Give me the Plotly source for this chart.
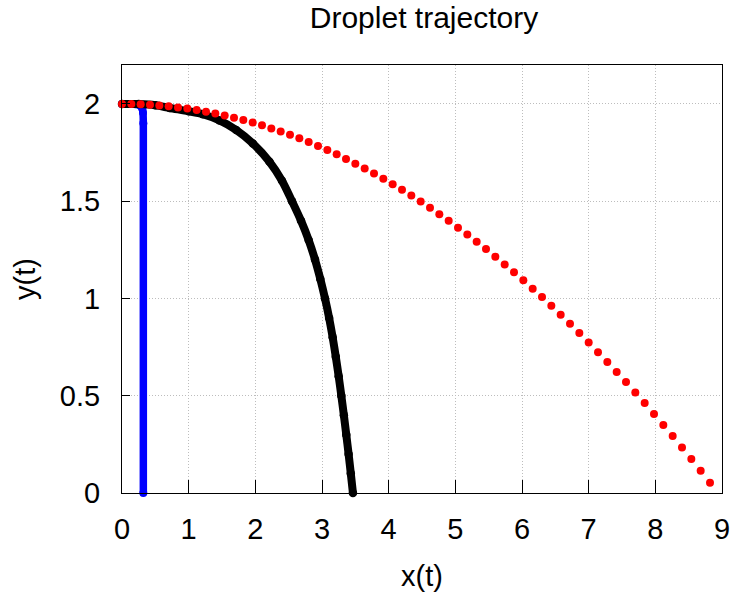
import plotly.graph_objects as go

# Red: droplet without drag
red_x = [0.00, 0.14, 0.28, 0.42, 0.56, 0.70, 0.84, 0.98, 1.12, 1.26,
         1.40, 1.54, 1.68, 1.82, 1.96, 2.10, 2.24, 2.38, 2.52, 2.66,
         2.80, 2.94, 3.08, 3.22, 3.36, 3.50, 3.64, 3.78, 3.92, 4.06,
         4.20, 4.34, 4.48, 4.62, 4.76, 4.90, 5.04, 5.18, 5.32, 5.46,
         5.60, 5.74, 5.88, 6.02, 6.16, 6.30, 6.44, 6.58, 6.72, 6.86,
         7.00, 7.14, 7.28, 7.42, 7.56, 7.70, 7.84, 7.98, 8.12, 8.26,
         8.40, 8.54, 8.68, 8.82]
red_y = [2.000, 1.9995, 1.998, 1.996, 1.992, 1.988, 1.982, 1.976, 1.969, 1.960,
         1.951, 1.941, 1.929, 1.917, 1.904, 1.890, 1.874, 1.858, 1.841, 1.823,
         1.804, 1.784, 1.763, 1.741, 1.717, 1.693, 1.668, 1.642, 1.615, 1.587,
         1.559, 1.529, 1.498, 1.466, 1.433, 1.399, 1.364, 1.329, 1.292, 1.254,
         1.215, 1.175, 1.135, 1.093, 1.050, 1.007, 0.962, 0.916, 0.870, 0.822,
         0.774, 0.724, 0.674, 0.622, 0.570, 0.516, 0.462, 0.406, 0.350, 0.293,
         0.234, 0.175, 0.115, 0.053]

# Black: medium droplet
black_x = [0.00, 0.25, 0.50, 0.715, 1.00, 1.212, 1.462, 1.713, 1.962, 2.212,
           2.40, 2.55, 2.685, 2.80, 2.895, 2.975, 3.045, 3.107, 3.16, 3.207,
           3.25, 3.29, 3.328, 3.364, 3.399, 3.432, 3.464]
black_y = [2.000, 1.999, 1.993, 1.979, 1.962, 1.947, 1.915, 1.866, 1.797, 1.703,
           1.605, 1.500, 1.400, 1.300, 1.200, 1.100, 1.000, 0.900, 0.800, 0.700,
           0.600, 0.500, 0.400, 0.300, 0.200, 0.100, 0.000]

# Blue: small droplet
blue_x = [0.00, 0.10, 0.20, 0.26, 0.29, 0.305, 0.315, 0.32, 0.32]
blue_y = [2.000, 2.000, 1.998, 1.994, 1.987, 1.975, 1.955, 1.900, 0.000]

x_ticks = [0, 1, 2, 3, 4, 5, 6, 7, 8, 9]
y_ticks = [0, 0.5, 1, 1.5, 2]
y_tick_text = ["0", "0.5", "1", "1.5", "2"]

FONT = "Liberation Sans, Arial, sans-serif"
FS = 29

fig = go.Figure()
fig.add_trace(go.Scatter(x=blue_x, y=blue_y, mode="lines+markers",
                         line=dict(color="#0000ff", width=7.5, shape="spline", smoothing=0.6),
                         marker=dict(color="#0000ff", size=8),
                         cliponaxis=False, showlegend=False, hoverinfo="skip"))
fig.add_trace(go.Scatter(x=black_x, y=black_y, mode="lines+markers",
                         line=dict(color="#000000", width=8, shape="spline", smoothing=0.8),
                         marker=dict(color="#000000", size=8.5),
                         cliponaxis=False, showlegend=False, hoverinfo="skip"))
fig.add_trace(go.Scatter(x=red_x, y=red_y, mode="markers",
                         marker=dict(color="#ff0000", size=8),
                         cliponaxis=False, showlegend=False, hoverinfo="skip"))

axis_common = dict(tickcolor="black", tickwidth=1,
                   showline=True, mirror=True, linecolor="black", linewidth=1,
                   showgrid=True, gridcolor="#bdbdbd", griddash="1px,2px", gridwidth=1,
                   zeroline=False, automargin=False,
                   tickfont=dict(family=FONT, size=FS, color="black"))

fig.update_layout(
    width=732, height=596,
    margin=dict(l=122, r=10, t=65, b=103),
    paper_bgcolor="white", plot_bgcolor="white",
    font=dict(family=FONT, size=FS, color="black"),
    title=dict(text="Droplet trajectory", x=424 / 732, xref="container", xanchor="center",
               y=1 - 17 / 596, yref="container", yanchor="middle",
               font=dict(family=FONT, size=30, color="black")),
    xaxis=dict(range=[0, 9], tickvals=x_ticks, ticks="inside", ticklen=13,
               ticklabelstandoff=10,
               title=dict(text="x(t)", standoff=21, font=dict(family=FONT, size=FS)),
               **axis_common),
    yaxis=dict(range=[0, 2.2], tickvals=y_ticks, ticktext=y_tick_text,
               ticks="inside", ticklen=8, ticklabelstandoff=15,
               title=dict(text="y(t)", standoff=15, font=dict(family=FONT, size=FS)),
               **axis_common),
)

fig.write_html("out.html", config={"displayModeBar": False, "staticPlot": True},
               post_script="document.body.style.margin='0';")
